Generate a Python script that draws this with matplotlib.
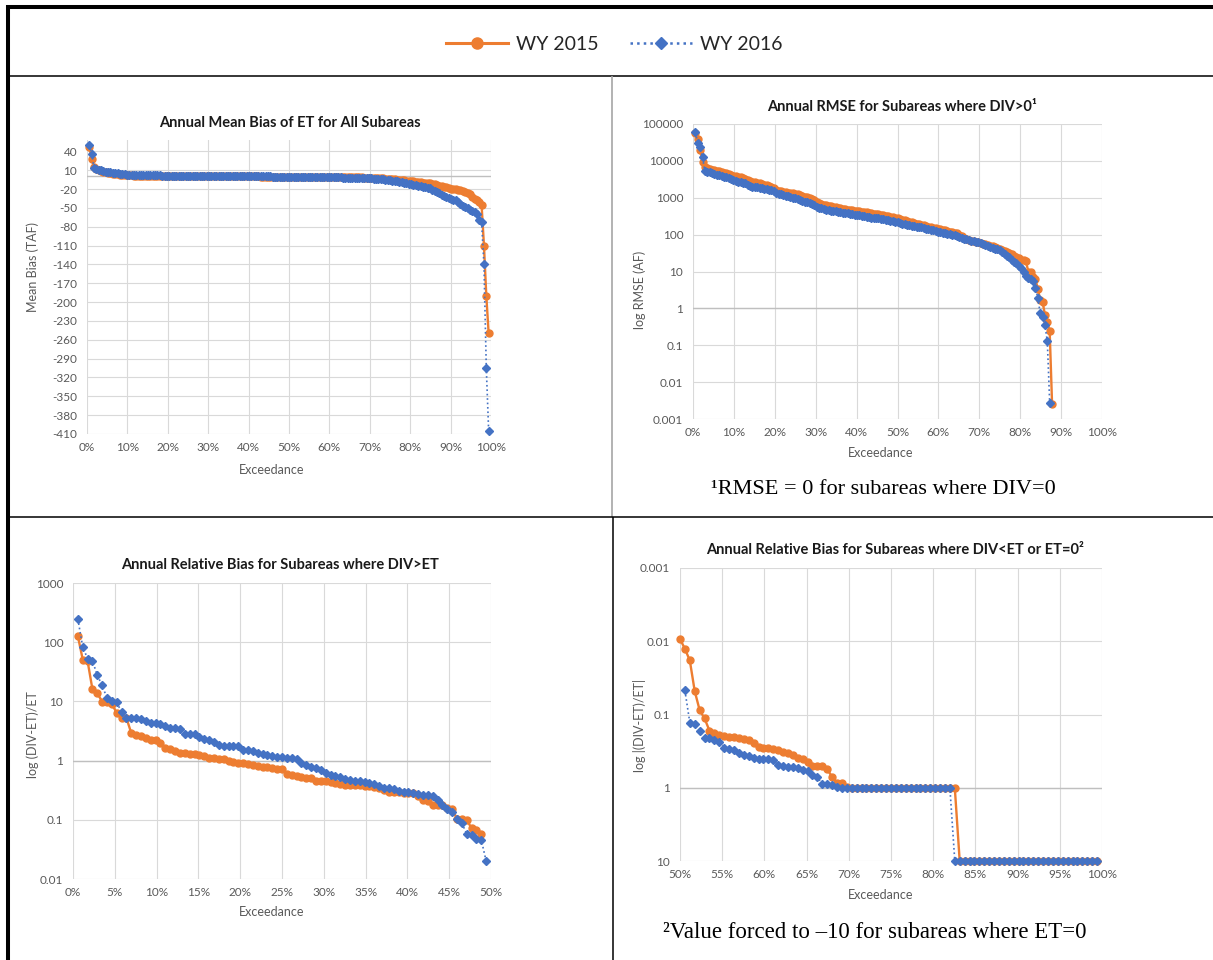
import numpy as np
import matplotlib
matplotlib.use('Agg')
import matplotlib.pyplot as plt
from matplotlib.lines import Line2D
from matplotlib.ticker import PercentFormatter, FixedLocator, NullLocator

plt.rcParams['font.family'] = ['Lato', 'DejaVu Sans']

# number of subareas; exceedance = rank / (N + 1)
N_SUB = 171

# Annual mean bias of ET (TAF), all subareas, sorted
bias_2015 = [
    47, 28, 15, 12,
    9.5, 8.5, 7.5, 6.5, 6, 5.5, 4.5, 4.0, 3.5, 3.0, 2.5, 2.0, 1.8,
    1.6, 1.5, 1.4, 1.3, 1.2, 1.1, 1.0, 0.9, 0.9, 0.8, 0.8, 0.7, 0.7, 0.6, 0.6, 0.5, 0.5,
    0.5, 0.5, 0.4, 0.4, 0.4, 0.4, 0.3, 0.3, 0.3, 0.3,
    0.3, 0.2, 0.2, 0.2, 0.2, 0.2, 0.2, 0.1, 0.1, 0.1,
    0.1, 0.1, 0.1, 0.1, 0.0, 0.0, 0.0, 0.0, 0.0, 0.0,
    0.0, 0.0, -0.1, -0.1, -0.1, -0.1, -0.1, -0.1, -0.1, -0.2,
    -0.2, -0.2, -0.2, -0.2, -0.2, -0.3, -0.3, -0.3, -0.3, -0.3,
    -0.3, -0.4, -0.4, -0.4, -0.4, -0.4, -0.5, -0.5, -0.5, -0.5,
    -0.6, -0.6, -0.6, -0.6, -0.7, -0.7, -0.7, -0.8, -0.8,
    -0.8, -0.9, -0.9, -1.0, -1.0, -1.1, -1.1, -1.2, -1.2, -1.3, -1.3, -1.4, -1.5, -1.6, -1.7, -1.8, -1.9,
    -2.0, -2.2, -2.4, -2.6, -2.8, -3.0, -3.3, -3.6, -3.9, -4.2, -4.5, -4.9, -5.3, -5.7, -6.1, -6.5, -7.0,
    -7.4, -7.8, -8.2, -8.7, -9.2, -9.7, -10.2, -10.7, -11.2,
    -12.0, -12.8, -13.6, -14.5, -15.5, -16.5, -17.5, -18.5,
    -19.5, -20, -20.5, -21, -21.5, -22.5, -24, -26, -28,
    -32, -36, -38, -40, -46, -110, -190, -250,
]
bias_2016 = [
    50, 36, 14, 12,
    10.5, 9.5, 8.5, 7.5, 7, 6.5, 6, 5.5, 5, 4.5, 4, 3.5, 3,
    2.8, 2.7, 2.6, 2.5, 2.4, 2.3, 2.2, 2.1, 2.0, 1.9, 1.8, 1.7, 1.6, 1.5, 1.4, 1.3, 1.2,
    1.1, 1.1, 1.0, 1.0, 1.0, 0.9, 0.9, 0.9, 0.8, 0.8,
    0.8, 0.7, 0.7, 0.7, 0.6, 0.6, 0.6, 0.5, 0.5, 0.5,
    0.4, 0.4, 0.4, 0.3, 0.3, 0.3, 0.3, 0.2, 0.2, 0.2,
    0.2, 0.1, 0.1, 0.1, 0.1, 0.0, 0.0, 0.0, 0.0, 0.0,
    -0.1, -0.1, -0.1, -0.1, -0.2, -0.2, -0.2, -0.2, -0.3, -0.3,
    -0.3, -0.4, -0.4, -0.4, -0.5, -0.5, -0.5, -0.6, -0.6, -0.6,
    -0.7, -0.7, -0.8, -0.8, -0.9, -0.9, -1.0, -1.0, -1.1,
    -1.2, -1.3, -1.4, -1.5, -1.6, -1.7, -1.8, -1.9, -2.0, -2.1, -2.2, -2.3, -2.4, -2.5, -2.6, -2.8, -3.0,
    -3.2, -3.4, -3.7, -4.0, -4.4, -4.8, -5.2, -5.6, -6.0,
    -6.6, -7.2, -7.9, -8.6, -9.4, -10.2, -11.0, -12.0,
    -12.8, -13.5, -14.2, -15.0, -15.8, -16.6, -17.4, -18.2, -19.0,
    -21, -23, -25, -27, -29, -31, -33, -35,
    -36, -37, -38, -40, -44, -47, -49, -51, -53,
    -55, -57, -60, -70, -73, -140, -305, -405,
]

# Annual RMSE (AF) for subareas where DIV>0
rmse_2015 = [
    57000, 39000, 19800, 9500, 7000, 6300, 6000, 5800, 5600, 5400,
    5200, 5000, 4800, 4600, 4400, 4200, 4000, 3850, 3700, 3550,
    3400, 3250, 3100, 2900, 2750, 2650, 2550, 2450, 2350, 2250,
    2150, 2050, 1950, 1850, 1600, 1550, 1500, 1450, 1400, 1380,
    1350, 1330, 1300, 1250, 1200, 1130, 1080, 1020, 960, 900,
    850, 790, 740, 690, 650, 620, 600, 580, 565, 550,
    535, 520, 505, 490, 480, 470, 460, 450, 440, 430,
    420, 410, 400, 390, 380, 370, 362, 355, 345, 335,
    325, 315, 305, 295, 285, 278, 265, 255, 245, 235,
    225, 215, 205, 198, 192, 185, 178, 172, 166, 160,
    155, 150, 146, 141, 136, 131, 126, 121, 116, 112,
    108, 100, 90, 82, 76, 72, 69, 67, 65, 63,
    60, 57, 54, 52, 50, 48, 46, 44, 42, 39,
    36, 33, 31, 29, 27, 25, 23, 21, 20, 19,
    10, 10, 7.3, 6.3, 3.4, 1.7, 1.5, 0.68, 0.42, 0.237,
    0.0026,
]
rmse_2016 = [
    59000, 31000, 24000, 12500, 5300, 5100, 4900, 4600, 4400, 4200,
    4050, 3900, 3700, 3550, 3400, 3200, 3000, 2900, 2750, 2650,
    2550, 2450, 2250, 2100, 2000, 1950, 1900, 1850, 1800, 1750,
    1700, 1650, 1600, 1550, 1350, 1300, 1250, 1200, 1150, 1100,
    1050, 1000, 960, 900, 850, 820, 790, 760, 720, 680,
    620, 560, 540, 520, 500, 480, 460, 450, 440, 425,
    415, 405, 395, 385, 375, 365, 355, 345, 340, 335,
    325, 315, 305, 298, 290, 285, 280, 275, 268, 260,
    252, 245, 238, 232, 226, 220, 210, 200, 192, 185,
    180, 175, 170, 166, 162, 158, 152, 146, 140, 135,
    130, 125, 121, 117, 113, 109, 105, 101, 98, 95,
    92, 88, 82, 78, 74, 71, 68, 66, 64, 62,
    59, 56, 53, 50, 47, 44, 42, 40, 38, 34,
    30, 27, 24, 21, 18.5, 17, 14, 12.3, 10, 7.6,
    6.6, 6.2, 5.7, 3.6, 1.94, 0.74, 0.57, 0.35, 0.13, 0.0028,
]

# Annual relative bias (DIV-ET)/ET for subareas where DIV>ET (ranks from 1)
relpos_2015 = [
    127, 51, 48, 16, 13.7, 9.9, 9.6, 8.9, 6.45, 5.3,
    5.2, 2.9, 2.7, 2.65, 2.4, 2.2, 2.2, 1.95, 1.65, 1.6,
    1.45, 1.35, 1.32, 1.3, 1.28, 1.25, 1.2, 1.12, 1.1, 1.08,
    1.05, 1.0, 0.93, 0.92, 0.92, 0.88, 0.83, 0.80, 0.78, 0.77,
    0.75, 0.73, 0.72, 0.59, 0.58, 0.55, 0.52, 0.5, 0.5, 0.45,
    0.45, 0.45, 0.44, 0.42, 0.4, 0.39, 0.39, 0.38, 0.38, 0.37,
    0.37, 0.36, 0.35, 0.32, 0.3, 0.29, 0.29, 0.28, 0.28, 0.28,
    0.25, 0.22, 0.21, 0.18, 0.175, 0.18, 0.16, 0.15, 0.105, 0.105,
    0.1, 0.072, 0.068, 0.057,
]
relpos_2016 = [
    247, 83, 53, 48.7, 27.5, 18.7, 11.3, 10.3, 9.6, 6.6,
    5.3, 5.3, 5.3, 5.0, 4.7, 4.4, 4.4, 4.15, 3.8, 3.6,
    3.6, 3.37, 2.78, 2.78, 2.78, 2.54, 2.32, 2.2, 2.06, 1.87,
    1.79, 1.79, 1.79, 1.74, 1.51, 1.51, 1.46, 1.36, 1.29, 1.23,
    1.18, 1.15, 1.15, 1.12, 1.09, 1.08, 0.9, 0.85, 0.79, 0.75,
    0.69, 0.61, 0.57, 0.55, 0.52, 0.48, 0.47, 0.46, 0.455, 0.44,
    0.42, 0.40, 0.37, 0.35, 0.34, 0.33, 0.31, 0.30, 0.29, 0.28,
    0.27, 0.265, 0.26, 0.25, 0.215, 0.18, 0.155, 0.135, 0.105, 0.088,
    0.058, 0.056, 0.048, 0.046, 0.020,
]

# |(DIV-ET)/ET| for subareas where DIV<ET or ET=0 (forced to 10 when ET=0)
relneg_start_2015 = 86
relneg_start_2016 = 87
relneg_2015 = [
    0.0093, 0.0127, 0.0183, 0.048, 0.087, 0.113, 0.166, 0.178, 0.19, 0.195,
    0.2, 0.205, 0.21, 0.215, 0.22, 0.248, 0.275, 0.29, 0.29, 0.3,
    0.305, 0.32, 0.34, 0.36, 0.39, 0.41, 0.44, 0.5, 0.5, 0.5,
    0.56, 0.71, 0.85, 0.87, 0.97,
    1, 1, 1, 1, 1, 1, 1, 1, 1, 1, 1, 1, 1, 1, 1, 1, 1, 1, 1, 1, 1, 1,
    10, 10, 10, 10, 10, 10, 10, 10, 10, 10, 10, 10, 10, 10, 10,
    10, 10, 10, 10, 10, 10, 10, 10, 10, 10, 10, 10, 10, 10,
]
relneg_2016 = [
    0.047, 0.129, 0.135, 0.166, 0.21, 0.21, 0.22, 0.235, 0.284, 0.3,
    0.305, 0.34, 0.36, 0.37, 0.39, 0.4, 0.4, 0.41, 0.42, 0.49,
    0.5, 0.52, 0.52, 0.53, 0.58, 0.6, 0.67, 0.71, 0.9, 0.9,
    0.92, 0.97,
    1, 1, 1, 1, 1, 1, 1, 1, 1, 1, 1, 1, 1, 1, 1, 1, 1, 1, 1, 1, 1, 1, 1,
    10, 10, 10, 10, 10, 10, 10, 10, 10, 10, 10, 10, 10, 10, 10,
    10, 10, 10, 10, 10, 10, 10, 10, 10, 10, 10, 10, 10, 10, 10,
]

ORANGE = '#ED7D31'
BLUE = '#4472C4'
GRID = '#D9D9D9'
TICK = '#595959'


def exceed(values, start=1):
    rank = np.arange(start, start + len(values))
    return rank / (N_SUB + 1)


W, H = 1213, 960
fig = plt.figure(figsize=(W / 100, H / 100), dpi=100)


def box(l, t, r, b):
    # pixel box -> figure fraction rect
    return [l / W, 1 - b / H, (r - l) / W, (b - t) / H]


def fx(x):
    return x / W


def fy(y):
    return 1 - y / H


def fline(x0, y0, x1, y1, lw, color='black'):
    fig.add_artist(Line2D([fx(x0), fx(x1)], [fy(y0), fy(y1)], lw=lw,
                          color=color, transform=fig.transFigure,
                          solid_capstyle='butt'))


def style(ax, xlim, xstep, yticks, ylabels, axis_at):
    for s in ax.spines.values():
        s.set_visible(False)
    ax.set_xlim(*xlim)
    ax.xaxis.set_major_locator(FixedLocator(np.arange(xlim[0], xlim[1] + 1e-9, xstep)))
    ax.xaxis.set_major_formatter(PercentFormatter(1.0, decimals=0))
    ax.yaxis.set_major_locator(FixedLocator(yticks))
    ax.set_yticklabels(ylabels)
    ax.yaxis.set_minor_locator(NullLocator())
    ax.grid(True, color=GRID, lw=0.8)
    ax.set_axisbelow(True)
    ax.axhline(axis_at, color='#BFBFBF', lw=1.0, zorder=1)
    ax.tick_params(length=0, labelsize=8.5, labelcolor=TICK)
    ax.tick_params(axis='y', pad=7)
    ax.tick_params(axis='x', pad=6)


def draw(ax, x1, y1, x2, y2):
    ax.plot(x1, y1, color=ORANGE, lw=1.7, marker='o', ms=5.0, zorder=3, clip_on=False)
    ax.plot(x2, y2, color=BLUE, lw=1.2, ls=':', marker='D', ms=4.3, zorder=4, clip_on=False)


# top-left: mean bias
ax1 = fig.add_axes(box(87, 140, 491, 434))
draw(ax1, exceed(bias_2015), bias_2015, exceed(bias_2016), bias_2016)
yt = list(range(-410, 41, 30))
style(ax1, (0, 1), 0.1, yt, [str(v) for v in yt], 0)
ax1.set_ylim(-410, 58)

# top-right: RMSE
ax2 = fig.add_axes(box(693, 124, 1102, 419))
ax2.set_yscale('log')
draw(ax2, exceed(rmse_2015), rmse_2015, exceed(rmse_2016), rmse_2016)
yt = [0.001, 0.01, 0.1, 1, 10, 100, 1000, 10000, 100000]
style(ax2, (0, 1), 0.1, yt, ['0.001', '0.01', '0.1', '1', '10', '100', '1000', '10000', '100000'], 1)
ax2.set_ylim(0.001, 100000)

# bottom-left: relative bias DIV>ET
ax3 = fig.add_axes(box(73, 583, 491, 879))
ax3.set_yscale('log')
draw(ax3, exceed(relpos_2015), relpos_2015, exceed(relpos_2016), relpos_2016)
yt = [0.01, 0.1, 1, 10, 100, 1000]
style(ax3, (0, 0.5), 0.05, yt, ['0.01', '0.1', '1', '10', '100', '1000'], 1)
ax3.set_ylim(0.01, 1000)

# bottom-right: relative bias DIV<ET or ET=0 (axis reversed)
ax4 = fig.add_axes(box(680, 568, 1102, 861))
ax4.set_yscale('log')
draw(ax4, exceed(relneg_2015, relneg_start_2015), relneg_2015,
     exceed(relneg_2016, relneg_start_2016), relneg_2016)
yt = [0.001, 0.01, 0.1, 1, 10]
style(ax4, (0.5, 1.0), 0.05, yt, ['0.001', '0.01', '0.1', '1', '10'], 1)
ax4.set_ylim(10, 0.001)

# titles
tkw = dict(ha='center', va='center', fontsize=10.5, fontweight='bold', color='#1a1a1a')
fig.text(fx(290), fy(123), 'Annual Mean Bias of ET for All Subareas', **tkw)
fig.text(fx(902), fy(107), 'Annual RMSE for Subareas where DIV>0\u00b9', **tkw)
fig.text(fx(280), fy(565), 'Annual Relative Bias for Subareas where DIV>ET', **tkw)
fig.text(fx(895), fy(550), 'Annual Relative Bias for Subareas where DIV<ET or ET=0\u00b2', **tkw)

# axis labels
lkw = dict(ha='center', va='center', fontsize=9, color=TICK)
for x, y in [(272, 470), (881, 453), (272, 912), (881, 895)]:
    fig.text(fx(x), fy(y), 'Exceedance', **lkw)
fig.text(fx(33), fy(267), 'Mean Bias (TAF)', rotation=90, **lkw)
fig.text(fx(640), fy(290), 'log RMSE (AF)', rotation=90, **lkw)
fig.text(fx(33), fy(735), 'log (DIV-ET)/ET', rotation=90, **lkw)
fig.text(fx(640), fy(725), 'log |(DIV-ET)/ET|', rotation=90, **lkw)

# footnotes
nkw = dict(ha='center', va='center', family='Liberation Serif', color='black')
fig.text(fx(883), fy(489), '\u00b9RMSE = 0 for subareas where DIV=0', fontsize=16, **nkw)
fig.text(fx(875), fy(933), '\u00b2Value forced to \u201310 for subareas where ET=0', fontsize=16.5, **nkw)

# legend
handles = [
    Line2D([], [], color=ORANGE, lw=2.2, marker='o', ms=8),
    Line2D([], [], color=BLUE, lw=1.8, ls=':', marker='D', ms=6.5),
]
fig.legend(handles, ['WY 2015', 'WY 2016'], loc='center', bbox_to_anchor=(fx(614), fy(44)),
           ncol=2, frameon=False, fontsize=14, handlelength=3.2, handletextpad=0.4,
           columnspacing=1.6, labelcolor='#262626')

# table borders
fline(6, 7, W, 7, 2.9)
fline(8, 5, 8, H, 2.9)
fline(8, 76, W, 76, 1.1)
fline(612, 76, 612, 517, 1.2, '#A6A6A6')
fline(612.5, 517, 612.5, H, 1.1)
fline(8, 517, W, 517, 1.1)

fig.savefig('out.png', dpi=100)
